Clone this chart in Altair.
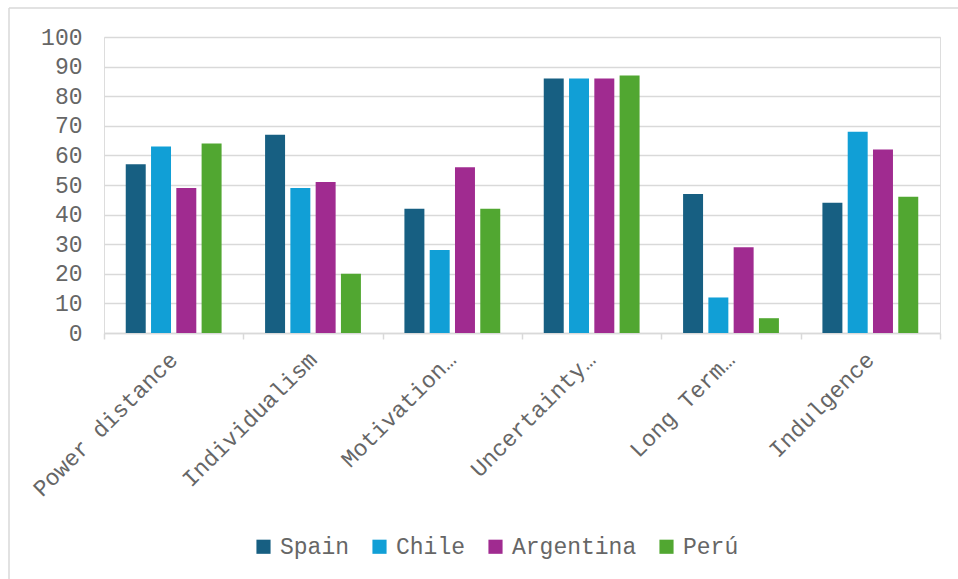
import altair as alt
import pandas as pd

categories = ["Power distance", "Individualism", "Motivation…", "Uncertainty…", "Long Term…", "Indulgence"]
countries = ["Spain", "Chile", "Argentina", "Perú"]
spain = [57, 67, 42, 86, 47, 44]
chile = [63, 49, 28, 86, 12, 68]
argentina = [49, 51, 56, 86, 29, 62]
peru = [64, 20, 42, 87, 5, 46]
colors = ["#175f82", "#119fd6", "#a02b90", "#51a731"]
y_ticks = [0, 10, 20, 30, 40, 50, 60, 70, 80, 90, 100]

series = {"Spain": spain, "Chile": chile, "Argentina": argentina, "Perú": peru}
rows = []
for c in countries:
    for cat, v in zip(categories, series[c]):
        rows.append({"dimension": cat, "country": c, "value": v})
df = pd.DataFrame(rows)

FONT = "Liberation Mono"
TXT = "#666666"
GRID = "#d9d9d9"

bars = alt.Chart(df).mark_bar().encode(
    x=alt.X(
        "dimension:N",
        sort=categories,
        scale=alt.Scale(paddingInner=0, paddingOuter=0),
        axis=alt.Axis(
            title=None, labelAngle=-45, tickBand="extent", grid=False,
            domainColor=GRID, tickColor=GRID, tickSize=6, domainWidth=1.5, tickWidth=1.5,
            labelPadding=9, labelOffset=-8, labelFont=FONT, labelFontSize=23, labelColor=TXT, labelLimit=400,
        ),
    ),
    xOffset=alt.XOffset("country:N", sort=countries, scale=alt.Scale(paddingInner=0.21, paddingOuter=0.86)),
    y=alt.Y(
        "value:Q",
        scale=alt.Scale(domain=[0, 100]),
        axis=alt.Axis(
            title=None, values=y_ticks, ticks=False, domain=False,
            gridColor=GRID, gridWidth=1.5, labelPadding=22,
            labelFont=FONT, labelFontSize=23, labelColor=TXT,
        ),
    ),
    color=alt.Color(
        "country:N",
        sort=countries,
        scale=alt.Scale(domain=countries, range=colors),
        legend=alt.Legend(
            title=None, orient="none", direction="horizontal", legendX=148, legendY=498,
            symbolType="square", symbolSize=200, symbolStrokeWidth=0, labelOffset=5,
            columnPadding=18, padding=0,
            labelFont=FONT, labelFontSize=23, labelColor=TXT,
        ),
    ),
)

frame = pd.DataFrame({"a": [0]})
left_line = alt.Chart(frame).mark_rule(color=GRID, strokeWidth=1.5).encode(
    x=alt.value(-95), y=alt.value(-29), y2=alt.value(560)
)
top_line = alt.Chart(frame).mark_rule(color=GRID, strokeWidth=1.5).encode(
    x=alt.value(-95), x2=alt.value(900), y=alt.value(-29)
)

chart = alt.layer(left_line, top_line, bars).properties(
    width=836,
    height=296,
    autosize=alt.AutoSizeParams(type="none"),
    padding={"left": 104, "top": 37, "right": 18, "bottom": 246},
).configure_view(stroke=None).configure(background="white")

chart.save("out.html", embed_options={"renderer": "svg", "actions": False})
